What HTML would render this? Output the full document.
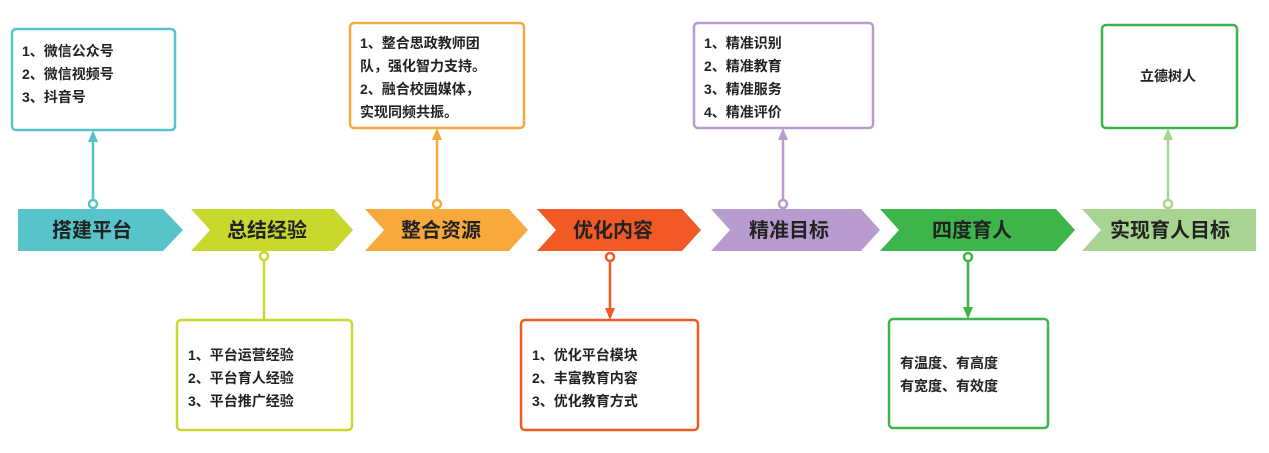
<!DOCTYPE html>
<html><head><meta charset="utf-8"><style>
html,body{margin:0;padding:0;background:#fff;}
svg{display:block;}
text{font-family:"Liberation Sans","Noto Sans CJK SC",sans-serif;}
.t{font-size:14px;fill:#222;font-weight:bold;}
.c{font-size:20px;fill:#222;font-weight:bold;text-anchor:middle;}
</style></head><body>
<svg width="1269" height="453" viewBox="0 0 1269 453" xmlns="http://www.w3.org/2000/svg">
<!-- chevrons -->
<polygon points="18,209 163,209 183,230 163,251 18,251" fill="#56c4c9"/>
<polygon points="191,209 334,209 353,230 334,251 191,251 210,230" fill="#c9d82c"/>
<polygon points="365,209 509,209 528,230 509,251 365,251 384,230" fill="#f7a93c"/>
<polygon points="537,209 682,209 701,230 682,251 537,251 556,230" fill="#f15a24"/>
<polygon points="711,209 861,209 880,230 861,251 711,251 730,230" fill="#b89ccf"/>
<polygon points="880,209 1056,209 1075,230 1056,251 880,251 899,230" fill="#3db54a"/>
<polygon points="1082,209 1256,209 1256,251 1082,251 1101,230" fill="#a7d591"/>
<text class="c" x="92" y="237">搭建平台</text>
<text class="c" x="267" y="237">总结经验</text>
<text class="c" x="441" y="237">整合资源</text>
<text class="c" x="613" y="237">优化内容</text>
<text class="c" x="789" y="237">精准目标</text>
<text class="c" x="972" y="237">四度育人</text>
<text class="c" x="1170" y="237">实现育人目标</text>
<!-- boxes -->
<g fill="#fff" stroke-width="2.5">
<rect x="12" y="29" width="163" height="101" rx="4" stroke="#56c4c9"/>
<rect x="350" y="23" width="174" height="105" rx="4" stroke="#f7a93c"/>
<rect x="694" y="23" width="179" height="105" rx="4" stroke="#b89ccf"/>
<rect x="1102" y="25" width="135" height="103" rx="4" stroke="#3db54a"/>
<rect x="177" y="320" width="175" height="110" rx="4" stroke="#c9d82c"/>
<rect x="521" y="320" width="177" height="110" rx="4" stroke="#f15a24"/>
<rect x="889" y="319" width="159" height="109" rx="4" stroke="#3db54a"/>
</g>
<!-- connectors up -->
<g stroke-width="2.5" fill="#fff">
<line x1="93" y1="204" x2="93" y2="140" stroke="#56c4c9"/><polygon points="88,142 98,142 93,130" fill="#56c4c9"/><circle cx="93" cy="204" r="4" stroke="#56c4c9"/>
<line x1="437" y1="204" x2="437" y2="138" stroke="#f7a93c"/><polygon points="432,140 442,140 437,128" fill="#f7a93c"/><circle cx="437" cy="204" r="4" stroke="#f7a93c"/>
<line x1="783" y1="204" x2="783" y2="138" stroke="#b89ccf"/><polygon points="778,140 788,140 783,128" fill="#b89ccf"/><circle cx="783" cy="204" r="4" stroke="#b89ccf"/>
<line x1="1168" y1="204" x2="1168" y2="138" stroke="#a7d591"/><polygon points="1163,140 1173,140 1168,128" fill="#a7d591"/><circle cx="1168" cy="204" r="4" stroke="#a7d591"/>
<!-- down -->
<line x1="264" y1="256" x2="264" y2="320" stroke="#c9d82c"/><circle cx="264" cy="256" r="4" stroke="#c9d82c"/>
<line x1="610" y1="257" x2="610" y2="310" stroke="#f15a24"/><polygon points="605,308 615,308 610,320" fill="#f15a24"/><circle cx="610" cy="257" r="4" stroke="#f15a24"/>
<line x1="968" y1="257" x2="968" y2="309" stroke="#3db54a"/><polygon points="963,307 973,307 968,319" fill="#3db54a"/><circle cx="968" cy="257" r="4" stroke="#3db54a"/>
</g>
<!-- texts -->
<text class="t" x="22" y="56">1、微信公众号</text>
<text class="t" x="22" y="79">2、微信视频号</text>
<text class="t" x="22" y="102">3、抖音号</text>
<text class="t" x="360" y="48">1、整合思政教师团</text>
<text class="t" x="360" y="71">队，强化智力支持。</text>
<text class="t" x="360" y="94">2、融合校园媒体，</text>
<text class="t" x="360" y="117">实现同频共振。</text>
<text class="t" x="704" y="48">1、精准识别</text>
<text class="t" x="704" y="71">2、精准教育</text>
<text class="t" x="704" y="94">3、精准服务</text>
<text class="t" x="704" y="117">4、精准评价</text>
<text class="t" x="1140" y="81">立德树人</text>
<text class="t" x="188" y="360">1、平台运营经验</text>
<text class="t" x="188" y="383">2、平台育人经验</text>
<text class="t" x="188" y="406">3、平台推广经验</text>
<text class="t" x="532" y="360">1、优化平台模块</text>
<text class="t" x="532" y="383">2、丰富教育内容</text>
<text class="t" x="532" y="406">3、优化教育方式</text>
<text class="t" x="900" y="368">有温度、有高度</text>
<text class="t" x="900" y="391">有宽度、有效度</text>
</svg>
</body></html>
